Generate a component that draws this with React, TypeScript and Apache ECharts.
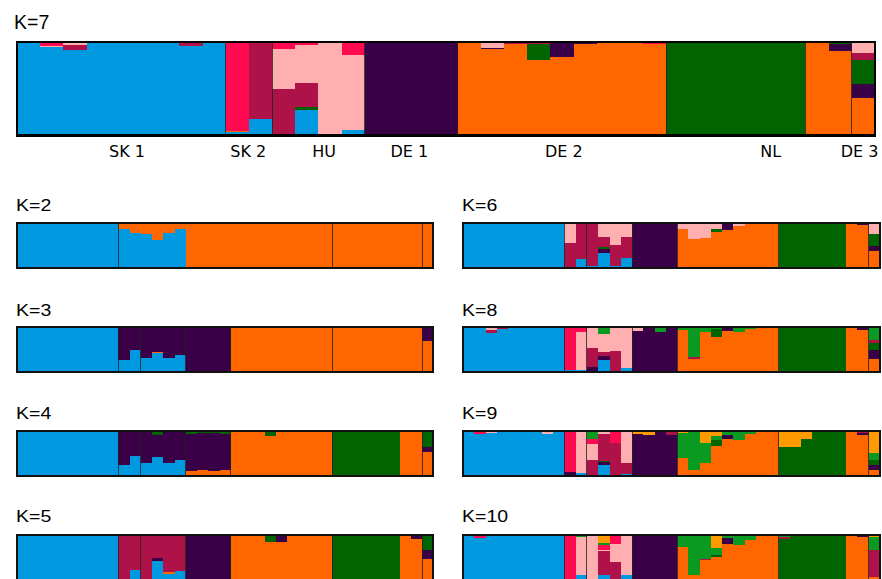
import React, { useEffect, useRef } from "react";
import * as echarts from "echarts";

// 37 individuals, grouped by population
const INDIVIDUALS: string[] = [
  "SK1-1", "SK1-2", "SK1-3", "SK1-4", "SK1-5", "SK1-6", "SK1-7", "SK1-8", "SK1-9",
  "SK2-1", "SK2-2",
  "HU-1", "HU-2", "HU-3", "HU-4",
  "DE1-1", "DE1-2", "DE1-3", "DE1-4",
  "DE2-1", "DE2-2", "DE2-3", "DE2-4", "DE2-5", "DE2-6", "DE2-7", "DE2-8", "DE2-9",
  "NL-1", "NL-2", "NL-3", "NL-4", "NL-5", "NL-6",
  "DE3-1", "DE3-2", "DE3-3",
];

const POP_LABELS = ["SK 1", "SK 2", "HU", "DE 1", "DE 2", "NL", "DE 3"];
const BREAKS_MAIN = [9, 11, 15, 19, 28, 34, 36];
const BREAKS_SMALL = [9, 11, 15, 19, 28, 36];
const BREAKS_K2 = [9, 28, 36];

// cluster codes, stacked bottom -> top
const ORDER = ["B", "O", "P", "G", "M", "K", "R", "L", "Y"];
const COLORS: Record<string, string> = {
  B: "#0098DF", // blue
  O: "#FF6600", // orange
  P: "#3A0047", // dark purple
  G: "#006400", // dark green
  M: "#AF1249", // maroon
  K: "#FFAFAF", // light pink
  R: "#FF0A50", // red
  L: "#0B9A21", // medium green
  Y: "#FF9A00", // light orange
};

type Q = Record<string, number>;

const K7_Q: Q[] = [
  { B: 1 }, { B: 0.945, K: 0.01, R: 0.045 }, { B: 0.915, M: 0.05, K: 0.035 }, { B: 1 }, { B: 1 }, { B: 1 }, { B: 1 }, { B: 0.955, M: 0.045 }, { B: 1 },
  { B: 0.035, O: 0.01, R: 0.955 }, { B: 0.17, M: 0.83 },
  { G: 0.01, M: 0.49, K: 0.42, R: 0.08 }, { B: 0.27, G: 0.03, M: 0.26, K: 0.41, R: 0.03 }, { K: 1 }, { B: 0.06, K: 0.8, R: 0.14 },
  { P: 1 }, { P: 1 }, { P: 1 }, { P: 1 },
  { O: 1 }, { O: 0.925, P: 0.015, K: 0.06 }, { O: 0.975, M: 0.025 }, { O: 0.805, G: 0.17, M: 0.025 }, { O: 0.835, P: 0.165 }, { O: 0.98, P: 0.02 }, { O: 1 }, { O: 0.985, M: 0.015 }, { O: 0.98, R: 0.02 },
  { G: 1 }, { G: 1 }, { G: 1 }, { G: 1 }, { G: 1 }, { G: 1 },
  { O: 1 }, { O: 0.9, P: 0.08, G: 0.02 }, { O: 0.4, P: 0.15, G: 0.26, M: 0.075, K: 0.115 },
];

const K2_Q: Q[] = [
  { B: 1 }, { B: 1 }, { B: 1 }, { B: 1 }, { B: 1 }, { B: 1 }, { B: 1 }, { B: 1 }, { B: 1 },
  { B: 0.865, O: 0.135 }, { B: 0.775, O: 0.225 },
  { B: 0.76, O: 0.24 }, { B: 0.625, O: 0.375 }, { B: 0.775, O: 0.225 }, { B: 0.865, O: 0.135 },
  { B: 0.01, O: 0.99 }, { O: 1 }, { O: 1 }, { O: 1 },
  { O: 1 }, { O: 1 }, { O: 1 }, { O: 1 }, { O: 1 }, { O: 1 }, { O: 1 }, { O: 1 }, { O: 1 },
  { O: 1 }, { O: 1 }, { O: 1 }, { O: 1 }, { O: 1 }, { O: 1 },
  { O: 1 }, { O: 1 }, { O: 1 },
];

const K3_Q: Q[] = [
  { B: 1 }, { B: 1 }, { B: 1 }, { B: 1 }, { B: 1 }, { B: 1 }, { B: 1 }, { B: 1 }, { B: 1 },
  { B: 0.26, P: 0.74 }, { B: 0.5, P: 0.5 },
  { B: 0.31, P: 0.69 }, { B: 0.415, O: 0.03, P: 0.555 }, { B: 0.31, P: 0.69 }, { B: 0.37, P: 0.63 },
  { P: 1 }, { P: 1 }, { P: 1 }, { P: 1 },
  { O: 1 }, { O: 1 }, { O: 1 }, { O: 1 }, { O: 1 }, { O: 1 }, { O: 1 }, { O: 1 }, { O: 1 },
  { O: 1 }, { O: 1 }, { O: 1 }, { O: 1 }, { O: 1 }, { O: 1 },
  { O: 1 }, { O: 0.98, P: 0.02 }, { O: 0.7, P: 0.3 },
];

const K4_Q: Q[] = [
  { B: 1 }, { B: 1 }, { B: 1 }, { B: 1 }, { B: 1 }, { B: 1 }, { B: 1 }, { B: 1 }, { B: 1 },
  { B: 0.25, P: 0.74, G: 0.01 }, { B: 0.45, P: 0.55 },
  { B: 0.29, P: 0.7, G: 0.01 }, { B: 0.42, P: 0.49, G: 0.09 }, { B: 0.29, P: 0.71 }, { B: 0.36, P: 0.64 },
  { B: 0.01, O: 0.11, P: 0.82, G: 0.06 }, { O: 0.15, P: 0.81, G: 0.04 }, { O: 0.11, P: 0.85, G: 0.04 }, { O: 0.14, P: 0.8, G: 0.06 },
  { O: 1 }, { O: 1 }, { O: 1 }, { O: 0.89, G: 0.11 }, { O: 1 }, { O: 1 }, { O: 1 }, { O: 1 }, { O: 1 },
  { G: 1 }, { G: 1 }, { G: 1 }, { G: 1 }, { G: 1 }, { G: 1 },
  { O: 1 }, { O: 0.985, P: 0.015 }, { O: 0.55, P: 0.11, G: 0.34 },
];

const K5_Q: Q[] = [
  { B: 1 }, { B: 1 }, { B: 1 }, { B: 1 }, { B: 1 }, { B: 1 }, { B: 1 }, { B: 1 }, { B: 1 },
  { M: 1 }, { B: 0.2, M: 0.8 },
  { M: 1 }, { B: 0.42, P: 0.07, M: 0.51 }, { B: 0.11, O: 0.04, M: 0.85 }, { B: 0.19, M: 0.81 },
  { P: 1 }, { P: 1 }, { P: 1 }, { P: 1 },
  { O: 1 }, { O: 1 }, { O: 1 }, { O: 0.85, G: 0.15 }, { O: 0.85, P: 0.15 }, { O: 1 }, { O: 1 }, { O: 1 }, { O: 1 },
  { G: 1 }, { G: 1 }, { G: 1 }, { G: 1 }, { G: 1 }, { G: 1 },
  { O: 1 }, { O: 0.92, P: 0.08 }, { O: 0.46, P: 0.21, G: 0.33 },
];

const K6_Q: Q[] = [
  { B: 1 }, { B: 0.97, K: 0.03 }, { B: 1 }, { B: 1 }, { B: 1 }, { B: 1 }, { B: 1 }, { B: 1 }, { B: 1 },
  { P: 0.03, M: 0.53, K: 0.44 }, { B: 0.21, M: 0.79 },
  { B: 0.05, M: 0.95 }, { B: 0.34, P: 0.08, G: 0.04, M: 0.22, K: 0.32 }, { B: 0.04, M: 0.47, K: 0.49 }, { B: 0.23, M: 0.47, K: 0.3 },
  { P: 1 }, { P: 1 }, { P: 1 }, { P: 0.98, M: 0.02 },
  { O: 0.87, K: 0.13 }, { O: 0.64, K: 0.36 }, { O: 0.66, K: 0.34 }, { O: 0.79, G: 0.075, K: 0.135 }, { O: 0.835, P: 0.165 }, { O: 0.925, K: 0.075 }, { O: 1 }, { O: 1 }, { O: 1 },
  { G: 1 }, { G: 1 }, { G: 1 }, { G: 1 }, { G: 1 }, { G: 1 },
  { O: 1 }, { O: 0.95, P: 0.05 }, { O: 0.38, P: 0.11, G: 0.26, K: 0.25 },
];

const K8_Q: Q[] = [
  { B: 1 }, { B: 0.97, R: 0.03 }, { B: 0.87, M: 0.06, K: 0.07 }, { B: 0.955, M: 0.045 }, { B: 1 }, { B: 1 }, { B: 1 }, { B: 0.97, K: 0.03 }, { B: 1 },
  { B: 0.04, R: 0.96 }, { B: 0.05, K: 0.85, R: 0.1 },
  { P: 0.12, M: 0.41, K: 0.47 }, { B: 0.27, P: 0.085, M: 0.1, K: 0.395, L: 0.15 }, { G: 0.02, M: 0.44, K: 0.54 }, { B: 0.08, K: 0.92 },
  { P: 0.92, K: 0.08 }, { O: 0.02, P: 0.98 }, { P: 0.89, L: 0.11 }, { O: 0.02, P: 0.98 },
  { O: 0.94, L: 0.06 }, { O: 0.3, M: 0.04, L: 0.66 }, { O: 0.9, L: 0.1 }, { O: 0.77, G: 0.18, L: 0.05 }, { O: 0.92, P: 0.08 }, { O: 0.9, L: 0.1 }, { O: 0.95, L: 0.05 }, { O: 1 }, { O: 1 },
  { G: 1 }, { G: 1 }, { G: 1 }, { G: 1 }, { G: 1 }, { G: 1 },
  { O: 1 }, { O: 0.93, P: 0.07 }, { O: 0.28, P: 0.21, G: 0.16, M: 0.06, L: 0.29 },
];

const K9_Q: Q[] = [
  { B: 1 }, { B: 0.95, R: 0.05 }, { B: 0.96, K: 0.04 }, { B: 1 }, { B: 1 }, { B: 1 }, { B: 1 }, { B: 0.95, K: 0.05 }, { B: 1 },
  { P: 0.1, R: 0.9 }, { B: 0.08, K: 0.92 },
  { M: 0.37, K: 0.34, R: 0.13, L: 0.16 }, { B: 0.26, P: 0.05, G: 0.04, M: 0.6, K: 0.05 }, { M: 0.75, R: 0.25 }, { B: 0.05, M: 0.25, K: 0.7 },
  { P: 0.95, Y: 0.05 }, { P: 0.925, Y: 0.075 }, { P: 1 }, { P: 0.925, M: 0.075 },
  { O: 0.4, L: 0.57, Y: 0.03 }, { O: 0.15, L: 0.85 }, { O: 0.3, L: 0.45, Y: 0.25 }, { O: 0.68, G: 0.12, L: 0.1, Y: 0.1 }, { O: 0.83, P: 0.09, L: 0.08 }, { O: 0.81, L: 0.19 }, { O: 0.95, L: 0.05 }, { O: 1 }, { O: 0.98, P: 0.02 },
  { G: 0.66, Y: 0.34 }, { G: 0.66, Y: 0.34 }, { G: 0.83, Y: 0.17 }, { G: 1 }, { G: 1 }, { G: 1 },
  { O: 1 }, { O: 0.92, P: 0.04, M: 0.04 }, { O: 0.15, P: 0.11, G: 0.1, L: 0.16, Y: 0.48 },
];

const K10_Q: Q[] = [
  { B: 1 }, { B: 0.94, R: 0.06 }, { B: 0.97, M: 0.03 }, { B: 1 }, { B: 1 }, { B: 1 }, { B: 1 }, { B: 0.98, Y: 0.02 }, { B: 1 },
  { R: 1 }, { B: 0.1, K: 0.85, L: 0.05 },
  { K: 1 }, { B: 0.1, M: 0.54, K: 0.03, R: 0.1, L: 0.05, Y: 0.18 }, { M: 0.39, K: 0.41, R: 0.2 }, { B: 0.1, K: 0.9 },
  { P: 1 }, { P: 1 }, { P: 1 }, { P: 0.98, M: 0.02 },
  { O: 0.73, L: 0.27 }, { O: 0.1, L: 0.9 }, { O: 0.43, M: 0.02, L: 0.55 }, { O: 0.5, G: 0.05, L: 0.15, Y: 0.3 }, { O: 0.79, P: 0.15, L: 0.06 }, { O: 0.78, L: 0.22 }, { O: 0.88, L: 0.12 }, { O: 0.98, Y: 0.02 }, { O: 0.98, Y: 0.02 },
  { G: 0.92, M: 0.04, L: 0.04 }, { G: 1 }, { G: 1 }, { G: 1 }, { G: 1 }, { G: 1 },
  { O: 1 }, { O: 0.95, P: 0.05 }, { O: 0.05, M: 0.6, L: 0.3, Y: 0.05 },
];

// layout (pixels)
type Panel = {
  title: string; data: Q[]; breaks: number[];
  left: number; top: number; width: number; height: number; border: number;
  titleX: number; titleY: number; titleScaleY: number;
};
const SMALL_H = 45;
const PANELS: Panel[] = [
  { title: "K=7", data: K7_Q, breaks: BREAKS_MAIN, left: 17, top: 42, width: 858, height: 93.3, border: 2.8, titleX: 14, titleY: 22, titleScaleY: 1 },
  { title: "K=2", data: K2_Q, breaks: BREAKS_K2, left: 17, top: 223.3, width: 416.3, height: SMALL_H, border: 1.7, titleX: 16, titleY: 206, titleScaleY: 0.84 },
  { title: "K=3", data: K3_Q, breaks: BREAKS_SMALL, left: 17, top: 327, width: 416.3, height: SMALL_H, border: 1.7, titleX: 16, titleY: 310.5, titleScaleY: 0.84 },
  { title: "K=4", data: K4_Q, breaks: BREAKS_SMALL, left: 17, top: 431.3, width: 416.3, height: SMALL_H, border: 1.7, titleX: 16, titleY: 414, titleScaleY: 0.84 },
  { title: "K=5", data: K5_Q, breaks: BREAKS_SMALL, left: 17, top: 535.2, width: 416.3, height: SMALL_H, border: 1.7, titleX: 16, titleY: 517, titleScaleY: 0.84 },
  { title: "K=6", data: K6_Q, breaks: BREAKS_SMALL, left: 463, top: 223, width: 417, height: SMALL_H, border: 1.7, titleX: 462, titleY: 206, titleScaleY: 0.84 },
  { title: "K=8", data: K8_Q, breaks: BREAKS_SMALL, left: 463, top: 327, width: 417, height: SMALL_H, border: 1.7, titleX: 462, titleY: 311, titleScaleY: 0.84 },
  { title: "K=9", data: K9_Q, breaks: BREAKS_SMALL, left: 463, top: 431.3, width: 417, height: SMALL_H, border: 1.7, titleX: 462, titleY: 414, titleScaleY: 0.84 },
  { title: "K=10", data: K10_Q, breaks: BREAKS_SMALL, left: 463, top: 535, width: 417, height: SMALL_H, border: 1.7, titleX: 462, titleY: 516.5, titleScaleY: 0.84 },
];
const POP_LABEL_X = [127, 248.3, 324, 409.3, 563.8, 770.8, 859.5];
const POP_LABEL_Y = 151;

export default function App() {
  const ref = useRef<HTMLDivElement>(null);
  useEffect(() => {
    if (!ref.current) return;
    const chart = echarts.init(ref.current, undefined, { renderer: "svg" });
    const grid: any[] = [];
    const xAxis: any[] = [];
    const yAxis: any[] = [];
    const series: any[] = [];
    const graphic: any[] = [];
    PANELS.forEach((p, i) => {
      grid.push({ left: p.left, top: p.top, width: p.width, height: p.height, show: false });
      xAxis.push({ type: "category", gridIndex: i, data: INDIVIDUALS, show: false, boundaryGap: true });
      xAxis.push({ type: "value", gridIndex: i, min: 0, max: INDIVIDUALS.length, show: false });
      yAxis.push({ type: "value", gridIndex: i, min: 0, max: 1, show: false });
      const present = ORDER.filter((c) => p.data.some((r) => (r[c] ?? 0) > 0));
      present.forEach((c) => {
        series.push({
          type: "bar",
          name: p.title + " " + c,
          xAxisIndex: 2 * i,
          yAxisIndex: i,
          stack: p.title,
          barCategoryGap: "0%",
          data: p.data.map((r) => r[c] ?? 0),
          itemStyle: { color: COLORS[c], borderWidth: 0 },
          silent: true,
        });
      });
      series.push({
        type: "custom",
        xAxisIndex: 2 * i + 1,
        yAxisIndex: i,
        data: p.breaks.map((b) => [b, 0]),
        encode: { x: 0, y: 1 },
        silent: true,
        z: 5,
        renderItem: (_params: any, api: any) => {
          const x = api.value(0);
          const a = api.coord([x, 0]);
          const b = api.coord([x, 1]);
          return {
            type: "line",
            shape: { x1: a[0], y1: a[1], x2: b[0], y2: b[1] },
            style: { stroke: "#222", lineWidth: 1, opacity: 0.8 },
          };
        },
      });
      graphic.push({
        type: "rect",
        shape: { x: p.left, y: p.top, width: p.width, height: p.height },
        style: { fill: "none", stroke: i === 0 ? "#000" : "#111", lineWidth: p.border },
        z: 100,
        silent: true,
      });
      graphic.push({
        type: "text",
        x: p.titleX,
        y: p.titleY,
        scaleY: p.titleScaleY,
        style: {
          text: p.title,
          fontFamily: "Liberation Sans, Arial, sans-serif",
          fontSize: 19.5,
          fill: "#000",
          textAlign: "left",
          textVerticalAlign: "middle",
        },
        z: 100,
      });
    });
    POP_LABELS.forEach((lab, j) => {
      graphic.push({
        type: "text",
        x: POP_LABEL_X[j],
        y: POP_LABEL_Y,
        style: {
          text: lab,
          fontFamily: "DejaVu Sans, Verdana, sans-serif",
          fontSize: 16,
          fill: "#000",
          textAlign: "center",
          textVerticalAlign: "middle",
        },
        z: 100,
      });
    });
    chart.setOption({
      animation: false,
      backgroundColor: "#fff",
      grid,
      xAxis,
      yAxis,
      series,
      graphic,
    });
    return () => chart.dispose();
  }, []);
  return (
    <>
      <style>{`#structure-chart svg path { shape-rendering: crispEdges; }`}</style>
      <div
        id="structure-chart"
        ref={ref}
        style={{ position: "absolute", left: 0, top: 0, width: 882, height: 579 }}
      />
    </>
  );
}
